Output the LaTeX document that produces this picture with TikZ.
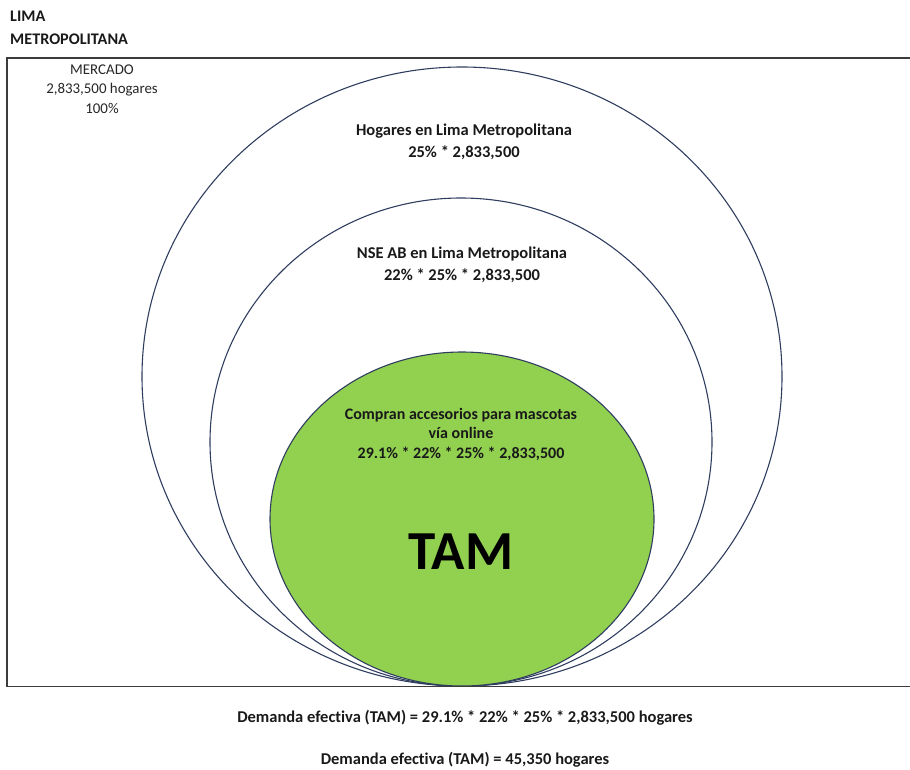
\documentclass[tikz,border=0pt]{standalone}
\usepackage{fontspec}
\setmainfont[Ligatures=NoCommon]{Carlito}
\definecolor{ringcol}{RGB}{47,62,95}
\definecolor{tamgreen}{RGB}{146,208,80}
\definecolor{framecol}{RGB}{60,60,60}
\begin{document}
\begin{tikzpicture}[x=1pt,y=1pt,
  ringline/.style={draw=ringcol, line width=1.1pt},
  boldtxt/.style={font=\fontsize{16.5}{21.5}\selectfont\bfseries, align=center, inner sep=0pt, text=black!90},
  plaintxt/.style={font=\fontsize{14.9}{19.5}\selectfont, align=center, inner sep=0pt, text=black!85},
  titletxt/.style={font=\fontsize{16.2}{23}\selectfont\bfseries, align=left, inner sep=0pt, text=black!90}]
\useasboundingbox (0,0) rectangle (910,-769);
% rings
\draw[ringline] (462,-376.5) ellipse [x radius=320, y radius=309.5];
\draw[ringline] (461,-442) ellipse [x radius=251, y radius=244];
\draw[ringline, fill=tamgreen] (462,-519) ellipse [x radius=192, y radius=167];
% frame (open on the right)
\draw[draw=framecol, line width=1.4pt] (911,-58) -- (7,-58) -- (7,-686.5) -- (911,-686.5);
% texts
\node[titletxt, anchor=north west] (title) at (10,-11) {LIMA\\METROPOLITANA};
\node[plaintxt] (mercado) at (102,-89) {MERCADO\\2,833,500 hogares\\100\%};
\node[boldtxt] (hogares) at (464,-142) {Hogares en Lima Metropolitana\\25\% * 2,833,500};
\node[boldtxt] (nse) at (462,-265) {NSE AB en Lima Metropolitana\\22\% * 25\% * 2,833,500};
\node[boldtxt, font=\fontsize{16}{19.5}\selectfont\bfseries] (compran) at (461,-434) {Compran accesorios para mascotas\\vía online\\29.1\% * 22\% * 25\% * 2,833,500};
\node[font=\fontsize{55}{55}\selectfont\bfseries, inner sep=0pt, text=black] (tam) at (461,-552) {TAM};
\node[boldtxt] (dem1) at (465,-718) {Demanda efectiva (TAM) = 29.1\% * 22\% * 25\% * 2,833,500 hogares};
\node[boldtxt] (dem2) at (465,-760) {Demanda efectiva (TAM) = 45,350 hogares};
\end{tikzpicture}
\end{document}
